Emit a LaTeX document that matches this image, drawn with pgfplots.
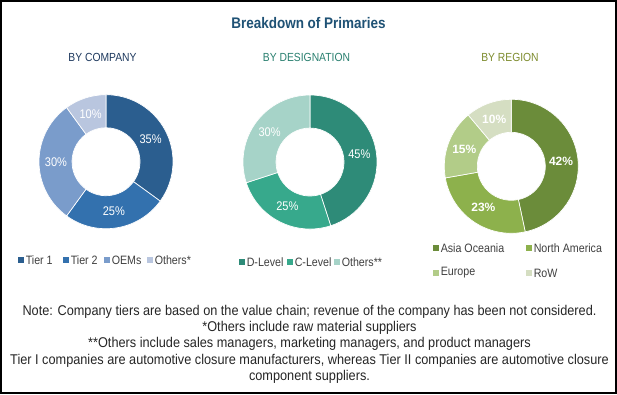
\documentclass[border=0pt]{standalone}
\usepackage{pgfplots}
\pgfplotsset{compat=1.18}
\usepackage{pgfplotstable}
\usetikzlibrary{calc}
\usepackage{fontspec}
\setmainfont{Liberation Sans}[FakeStretch=0.88]
\newfontfamily\notefont{Liberation Sans}[FakeStretch=0.9]
\newfontfamily\plainfont{Liberation Sans}

\definecolor{coA}{HTML}{2B5E8F}
\definecolor{coB}{HTML}{3371AE}
\definecolor{coC}{HTML}{7A9CCB}
\definecolor{coD}{HTML}{B9C6DF}
\definecolor{deA}{HTML}{2E8B78}
\definecolor{deB}{HTML}{37A98C}
\definecolor{deC}{HTML}{A6D3C8}
\definecolor{reA}{HTML}{6B8C3A}
\definecolor{reB}{HTML}{8DB14C}
\definecolor{reC}{HTML}{B2CC88}
\definecolor{reD}{HTML}{D5DEC2}
\definecolor{titlecol}{HTML}{1F5275}
\definecolor{subA}{HTML}{1F3A5F}
\definecolor{subB}{HTML}{2A8070}
\definecolor{subC}{HTML}{7E8C2E}
\definecolor{legtext}{HTML}{404040}
\definecolor{notetext}{HTML}{262626}

\pgfplotstableread[col sep=comma]{
label,value,color,lx,ly
Tier 1,35,coA,18,260
Tier 2,25,coB,63,260
OEMs,30,coC,104,260
Others*,10,coD,147,260
}\company

\pgfplotstableread[col sep=comma]{
label,value,color,lx,ly
D-Level,45,deA,239,262
C-Level,25,deB,287,262
Others**,30,deC,334,262
}\designation

\pgfplotstableread[col sep=comma]{
label,value,color,lx,ly
Asia Oceania,42,reA,433,248
North America,23,reB,526,248
Europe,15,reC,433,273
RoW,10,reD,526,273
}\region

% 1 px = 0.75 pt
\def\Rout{50.25pt}
\def\Rin{25.5pt}
\def\Rlab{37.5pt}
\newcommand\legfont{\fontsize{9.1}{10}\selectfont}

\newcommand\drawdonut[4]{% table, cx, cy, label font
  \xdef\tot{0}%
  \pgfplotstableforeachcolumnelement{value}\of#1\as\v{\pgfmathsetmacro\t{\tot+\v}\xdef\tot{\t}}%
  \xdef\cum{90}%
  \pgfplotstablegetrowsof{#1}\pgfmathtruncatemacro\nlast{\pgfplotsretval-1}%
  \foreach \i in {0,...,\nlast}{%
    \pgfplotstablegetelem{\i}{value}\of#1\let\val\pgfplotsretval
    \pgfplotstablegetelem{\i}{color}\of#1\let\col\pgfplotsretval
    \pgfplotstablegetelem{\i}{label}\of#1\let\lab\pgfplotsretval
    \pgfplotstablegetelem{\i}{lx}\of#1\let\lx\pgfplotsretval
    \pgfplotstablegetelem{\i}{ly}\of#1\let\ly\pgfplotsretval
    \pgfmathsetmacro\aend{\cum-360*\val/\tot}%
    \pgfmathsetmacro\amid{(\cum+\aend)/2}%
    \pgfmathsetmacro\sqa{\lx}\pgfmathsetmacro\sqb{\lx+6}%
    \pgfmathsetmacro\sqc{\ly-3}\pgfmathsetmacro\sqd{\ly+3}%
    \pgfmathsetmacro\tx{\lx+7.5}%
    \fill[fill=\col, draw=white, line width=0.5pt] ($(axis cs:#2,#3)+(\cum:\Rout)$) arc[start angle=\cum,end angle=\aend,radius=\Rout] -- ($(axis cs:#2,#3)+(\aend:\Rin)$) arc[start angle=\aend,end angle=\cum,radius=\Rin] -- cycle;
    \node[text=white,font=#4] at ($(axis cs:#2,#3)+(\amid:\Rlab)$) {\val\%};
    \fill[fill=\col] (axis cs:\sqa,\sqc) rectangle (axis cs:\sqb,\sqd);
    \node[anchor=west, inner sep=0pt, text=legtext, font=\legfont] at (axis cs:\tx,\ly) {\lab};
    \xdef\cum{\aend}%
  }%
}

\begin{document}
\begin{tikzpicture}
\begin{axis}[
  width=462.75pt, height=295.5pt, scale only axis,
  xmin=0, xmax=617, ymin=0, ymax=394, y dir=reverse,
  hide axis, clip=false]
\addplot[draw=none, forget plot] coordinates {(0,0) (617,394)};
\pgfplotsextra{
  \fill[white] (axis cs:0,0) rectangle (axis cs:617,394);
  \drawdonut{\company}{106}{161.7}{\fontsize{9.4}{10}\selectfont}
  \drawdonut{\designation}{310}{162}{\fontsize{9.4}{10}\selectfont}
  \drawdonut{\region}{511.3}{166.3}{\plainfont\fontsize{9}{10}\selectfont\bfseries}
}
\node[text=titlecol, font=\fontsize{11.5}{13}\selectfont\bfseries] at (axis cs:308.5,23) {Breakdown of Primaries};
\node[text=subA, font=\fontsize{8.8}{10}\selectfont] at (axis cs:102.5,57) {BY COMPANY};
\node[text=subB, font=\fontsize{8.8}{10}\selectfont] at (axis cs:306.5,57) {BY DESIGNATION};
\node[text=subC, font=\fontsize{8.8}{10}\selectfont] at (axis cs:510,57) {BY REGION};
\node[text=notetext, font=\notefont\fontsize{10.6}{12}\selectfont] at (axis cs:309.5,312) {Note: Company tiers are based on the value chain; revenue of the company has been not considered.};
\node[text=notetext, font=\notefont\fontsize{10.6}{12}\selectfont] at (axis cs:309.5,328) {*Others include raw material suppliers};
\node[text=notetext, font=\notefont\fontsize{10.6}{12}\selectfont] at (axis cs:309.5,344) {**Others include sales managers, marketing managers, and product managers};
\node[text=notetext, font=\notefont\fontsize{10.6}{12}\selectfont] at (axis cs:309.5,361) {Tier I companies are automotive closure manufacturers, whereas Tier II companies are automotive closure};
\node[text=notetext, font=\notefont\fontsize{10.6}{12}\selectfont] at (axis cs:309.5,377) {component suppliers.};
\draw[black, line width=1.5pt] (axis cs:1,1) rectangle (axis cs:616,393);
\end{axis}
\end{tikzpicture}
\end{document}
